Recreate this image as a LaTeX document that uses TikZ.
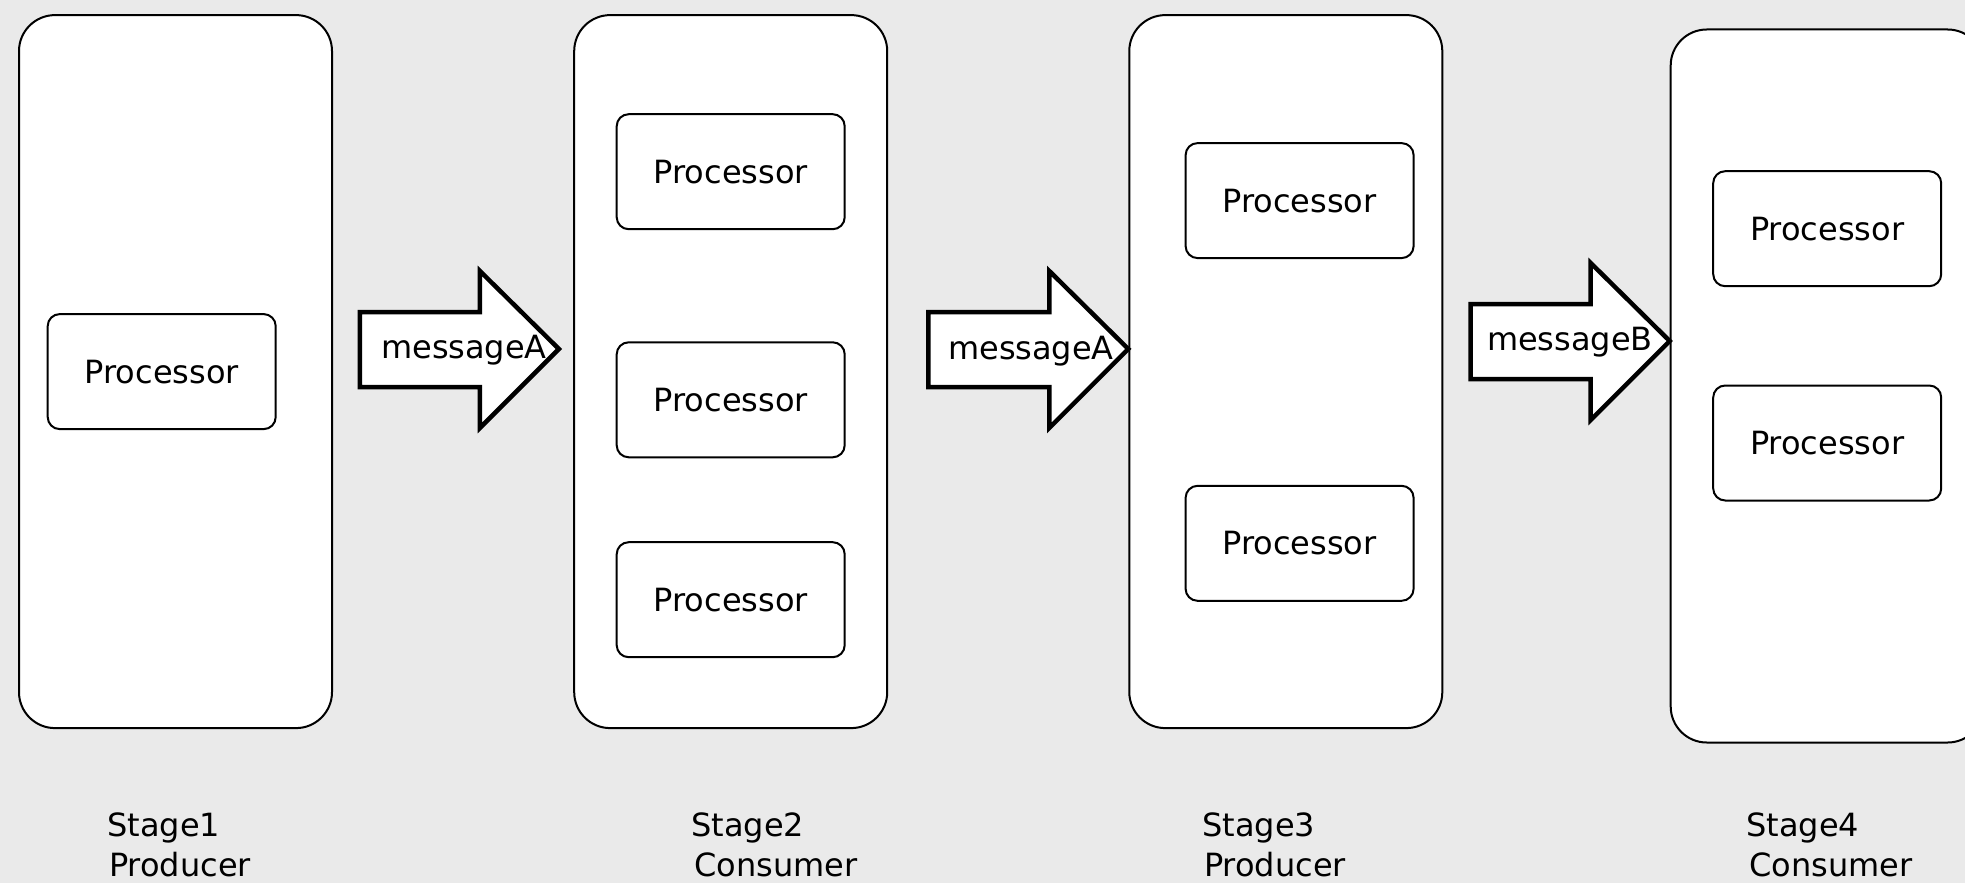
\documentclass[tikz,border=0pt]{standalone}
\usepackage{fontspec}
\setmainfont{DejaVu Sans}
\definecolor{paper}{HTML}{EAEAEA}
\begin{document}
\begin{tikzpicture}[x=1pt,y=-1pt,
  txt/.style={font=\fontsize{32}{40}\selectfont, inner sep=0pt},
  stagebox/.style={draw=black, line width=2pt, fill=white, rounded corners=36pt,
    minimum width=313pt, minimum height=713pt, inner sep=0pt},
  procbox/.style={draw=black, line width=2pt, fill=white, rounded corners=12pt,
    minimum width=228pt, minimum height=115pt, inner sep=0pt, txt},
  blockarrow/.style={draw=black, line width=4.5pt, fill=white, line join=miter},
  caption/.style={txt, align=left, anchor=west}]
\fill[paper] (0,0) rectangle (1965,883);
\useasboundingbox (0,0) rectangle (1965,883);
\clip (0,0) rectangle (1965,883);

% stages
\node[stagebox] (s1) at (175.5,371.6) {};
\node[stagebox] (s2) at (730.7,371.6) {};
\node[stagebox] (s3) at (1285.8,371.6) {};
\node[stagebox] (s4) at (1827.2,386) {};

% processors
\node[procbox] (p1)  at (161.7,371.6) {Processor};
\node[procbox] (p2a) at (730.7,171.7) {Processor};
\node[procbox] (p2b) at (730.7,399.8) {Processor};
\node[procbox] (p2c) at (730.7,599.7) {Processor};
\node[procbox] (p3a) at (1299.6,200.6) {Processor};
\node[procbox] (p3b) at (1299.6,543.3) {Processor};
\node[procbox] (p4a) at (1827.2,228.7) {Processor};
\node[procbox] (p4b) at (1827.2,443) {Processor};

% message arrows between stages
\coordinate (t1) at (558.9,349);
\coordinate (t2) at (s3.west |- 0,349);
\coordinate (t3) at (s4.west |- 0,341);
\draw[blockarrow] (t1) ++(-199,-37) -- ++(120,0) -- ++(0,-41) -- (t1)
  -- ++(-79,79) -- ++(0,-41) -- ++(-120,0) -- cycle;
\draw[blockarrow] (t2) ++(-200,-37) -- ++(121,0) -- ++(0,-41) -- (t2)
  -- ++(-79,79) -- ++(0,-41) -- ++(-121,0) -- cycle;
\draw[blockarrow] (t3) ++(-199,-37) -- ++(120,0) -- ++(0,-41) -- (t3)
  -- ++(-79,79) -- ++(0,-41) -- ++(-120,0) -- cycle;
\node[txt] (m1) at (464,350) {messageA};
\node[txt] (m2) at (1031,351) {messageA};
\node[txt] (m3) at (1570,342) {messageB};

% captions
\node[caption] (c1) at (107,845) {Stage1\\\hspace{2pt}Producer};
\node[caption] (c2) at (691,845) {Stage2\\\hspace{3pt}Consumer};
\node[caption] (c3) at (1202,845) {Stage3\\\hspace{2pt}Producer};
\node[caption] (c4) at (1746,845) {Stage4\\\hspace{3pt}Consumer};
\end{tikzpicture}
\end{document}
